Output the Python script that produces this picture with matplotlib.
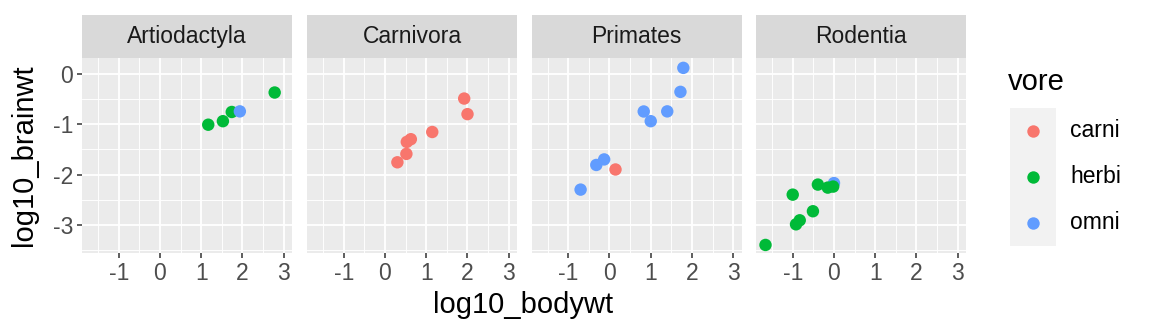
import matplotlib
matplotlib.use('Agg')
import matplotlib.pyplot as plt
import numpy as np

plt.rcParams['font.family'] = ['Liberation Sans', 'DejaVu Sans']

# log10 bodywt / brainwt per order
orders = ['Artiodactyla', 'Carnivora', 'Primates', 'Rodentia']

artio_x = [1.17, 1.525, 1.74, 1.936, 2.78]
artio_y = [-1.01, -0.94, -0.757, -0.745, -0.37]
artio_vore = ['herbi', 'herbi', 'herbi', 'omni', 'herbi']

carni_x = [1.92, 2.0, 1.146, 0.627, 0.529, 0.519, 0.301]
carni_y = [-0.49, -0.80, -1.155, -1.298, -1.352, -1.59, -1.757]
carni_vore = ['carni'] * 7

prim_x = [1.79, 1.72, 1.40, 0.83, 1.0, -0.129, -0.319, 0.146, -0.70]
prim_y = [0.12, -0.357, -0.745, -0.747, -0.94, -1.70, -1.81, -1.90, -2.30]
prim_vore = ['omni', 'omni', 'omni', 'omni', 'omni', 'omni', 'omni', 'carni', 'omni']

rod_x = [-1.66, -1.0, -0.39, 0.0, -0.15, -0.02, -0.51, -0.83, -0.92]
rod_y = [-3.40, -2.40, -2.20, -2.17, -2.26, -2.24, -2.73, -2.91, -2.99]
rod_vore = ['herbi', 'herbi', 'herbi', 'omni', 'herbi', 'herbi', 'herbi', 'herbi', 'herbi']

vores = ['carni', 'herbi', 'omni']
colors = {'carni': '#F8766D', 'herbi': '#00BA38', 'omni': '#619CFF'}

panels = [(artio_x, artio_y, artio_vore), (carni_x, carni_y, carni_vore),
          (prim_x, prim_y, prim_vore), (rod_x, rod_y, rod_vore)]

W, H = 1152, 336
fig = plt.figure(figsize=(W / 100, H / 100), dpi=100)

lefts = [82, 307, 531.5, 756]
pw = 210
top, bottom, strip_top = 58.3, 253, 15

def fx(px):
    return px / W

def fy(py):
    return 1 - py / H

for i, (name, (xs, ys, vs)) in enumerate(zip(orders, panels)):
    ax = fig.add_axes([fx(lefts[i]), fy(bottom), pw / W, (bottom - top) / H])
    ax.set_facecolor('#EBEBEB')
    ax.set_xlim(-1.89, 3.20)
    ax.set_ylim(-3.56, 0.31)
    ax.set_xticks([-1, 0, 1, 2, 3])
    ax.set_yticks([-3, -2, -1, 0])
    ax.set_xticks([-1.5, -0.5, 0.5, 1.5, 2.5], minor=True)
    ax.set_yticks([-3.5, -2.5, -1.5, -0.5], minor=True)
    ax.grid(which='major', color='white', lw=1.3)
    ax.grid(which='minor', color='white', lw=0.65)
    ax.set_axisbelow(True)
    for s in ax.spines.values():
        s.set_visible(False)
    ax.tick_params(which='major', length=3.8, width=1.1, color='#333333',
                   labelsize=16.5, labelcolor='#4D4D4D', pad=2.5)
    ax.tick_params(which='minor', length=0)
    ax.set_xticklabels(['-1', '0', '1', '2', '3'])
    if i == 0:
        ax.set_yticklabels(['-3', '-2', '-1', '0'])
    else:
        ax.tick_params(axis='y', which='major', length=0, labelleft=False)
    ax.scatter(xs, ys, c=[colors[v] for v in vs], s=80, linewidths=0, zorder=3)

    sax = fig.add_axes([fx(lefts[i]), fy(top), pw / W, (top - strip_top) / H])
    sax.set_facecolor('#D9D9D9')
    sax.set_xticks([])
    sax.set_yticks([])
    for s in sax.spines.values():
        s.set_visible(False)
    sax.text(0.5, 0.5, name, ha='center', va='center', fontsize=16.5,
             color='#1A1A1A', transform=sax.transAxes)

fig.text(fx(523), fy(305), 'log10_bodywt', ha='center', va='center', fontsize=21)
fig.text(fx(24), fy(155.5), 'log10_brainwt', ha='center', va='center',
         rotation=90, fontsize=21)

# legend
fig.text(fx(1008), fy(82), 'vore', ha='left', va='center', fontsize=21)
lax = fig.add_axes([fx(1010), fy(245.5), 46 / W, (245.5 - 108) / H])
lax.set_facecolor('#F2F2F2')
lax.set_xlim(0, 1)
lax.set_ylim(0, 3)
lax.set_xticks([])
lax.set_yticks([])
for s in lax.spines.values():
    s.set_visible(False)
for k, v in enumerate(vores):
    yk = 2.5 - k
    lax.scatter([0.5], [yk], color=colors[v], s=80, linewidths=0)
    fig.text(fx(1070), fy(130.7 + 46 * k), v, ha='left', va='center', fontsize=16.5)

fig.savefig('out.png', dpi=100)
